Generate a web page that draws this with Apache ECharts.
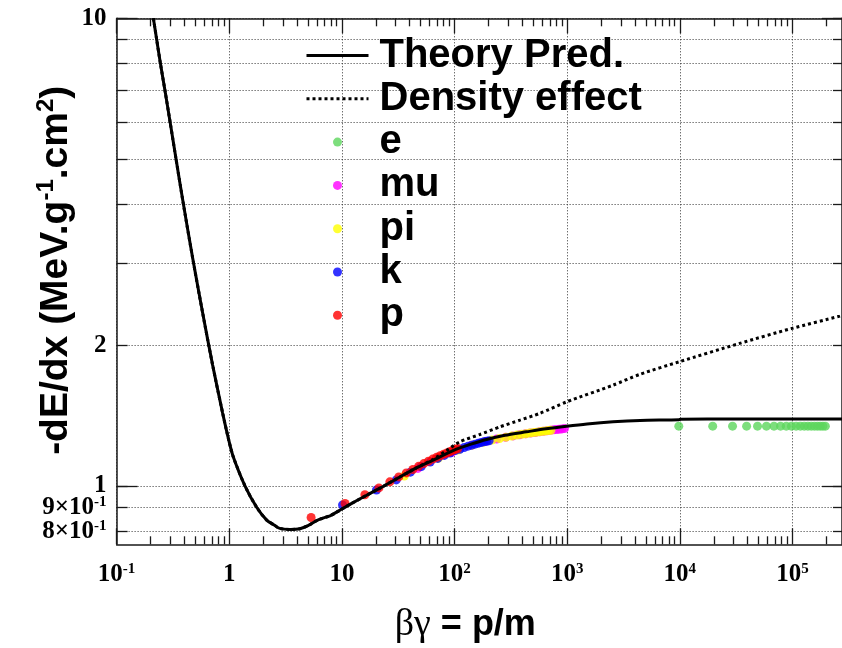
<!DOCTYPE html>
<html><head><meta charset="utf-8">
<script src="https://cdn.jsdelivr.net/npm/echarts@6/dist/echarts.min.js"></script>
<style>html,body{margin:0;padding:0;background:#fff}#c{width:842px;height:648px}</style>
</head><body><div id="c"></div>
<script>
// ---------- data ----------
const theoryBG  = [0.212,0.227,0.245,0.269,0.2985,0.337,0.386,0.4733,0.5808,0.7121,0.8737,0.9938,1.085,1.378,1.75,2.15,2.5,2.81,3.5,4.24,5.0,6.1,8,9.6,12,16.6,22,32.7,45,64.6,97,140,192,280,435,650,986,1500,2550,4440,9800,10200,30000,100000,275000];
const theoryVal = [10,9,8,7,6,5,4.09,3.07,2.342,1.8125,1.431,1.248,1.154,1.0,0.9,0.845,0.825,0.811,0.807,0.81,0.822,0.845,0.865,0.887,0.915,0.955,0.99,1.045,1.09,1.135,1.19,1.228,1.257,1.283,1.305,1.325,1.342,1.357,1.371,1.38,1.385,1.389,1.39,1.39,1.39];

const densityBG  = [0.212,0.227,0.245,0.269,0.2985,0.337,0.386,0.4733,0.5808,0.7121,0.8737,0.9938,1.085,1.378,1.75,2.15,2.5,2.81,3.5,4.24,5.0,6.1,8,9.6,12,16.6,22,32.7,45,64.6,85,111,168,252,380,571,986,2550,4440,9840,33900,99000,263000,275000];
const densityVal = [10,9,8,7,6,5,4.09,3.07,2.342,1.8125,1.431,1.248,1.154,1.0,0.9,0.845,0.825,0.811,0.807,0.81,0.822,0.845,0.865,0.887,0.915,0.955,0.99,1.045,1.09,1.14,1.19,1.242,1.288,1.337,1.382,1.429,1.512,1.642,1.733,1.842,2.017,2.172,2.307,2.315];

const eBG  = [9785,19570,29354,39139,48924,58708,68493,78278,88062,97847,107632,117417,127201,136986,146771,156555,166340,176125,185909,195694];
const eVal = [1.342,1.342,1.342,1.342,1.342,1.342,1.342,1.342,1.342,1.342,1.342,1.342,1.342,1.342,1.342,1.342,1.342,1.342,1.342,1.342];

const muBG  = [47.3,94.6,141.9,189.2,236.5,283.8,331.1,378.4,425.7,473,520.3,567.6,614.9,662.2,709.5,756.8,804.1,851.4,898.7,946];
const muVal = [1.09,1.18,1.222,1.245,1.26,1.27,1.279,1.286,1.292,1.297,1.301,1.305,1.309,1.312,1.315,1.318,1.32,1.322,1.324,1.326];

const piBG  = [35.82,71.64,107.5,143.3,179.1,214.9,250.7,286.6,322.4,358.2,394,429.8,465.7,501.5,537.3,573.1,609,644.8,680.6,716.4];
const piVal = [1.05,1.145,1.193,1.222,1.24,1.253,1.263,1.271,1.278,1.284,1.289,1.293,1.297,1.3,1.303,1.306,1.309,1.311,1.313,1.315];

const kBG  = [10.13,20.26,30.39,40.52,50.65,60.78,70.91,81.04,91.17,101.3,111.4,121.6,131.7,141.8,151.9,162.1,172.2,182.3,192.4,202.6];
const kVal = [0.91,0.98,1.03,1.07,1.1,1.125,1.145,1.162,1.176,1.19,1.198,1.208,1.216,1.222,1.228,1.233,1.238,1.242,1.246,1.249];

const pBG  = [5.33,10.66,15.99,21.32,26.65,31.98,37.31,42.64,47.97,53.3,58.63,63.96,69.29,74.62,79.95,85.28,90.61,95.94,101.27,106.6];
const pVal = [0.856,0.917,0.957,0.99,1.02,1.045,1.066,1.084,1.101,1.116,1.129,1.141,1.151,1.16,1.168,1.176,1.183,1.19,1.196,1.202];

// ---------- axes / ticks ----------
const X_MIN = 0.1, X_MAX = 275000;
const Y_MIN = 0.75, Y_MAX = 10;
const xMajorTicks = [0.1,1,10,100,1000,10000,100000];
const xTickLabels = ['{b|10}{s|-1}','{b|1}','{b|10}','{b|10}{s|2}','{b|10}{s|3}','{b|10}{s|4}','{b|10}{s|5}'];
const yMajorTicks = [1,10];
const yMinorTicks = [0.8,0.9,1,2,3,4,5,6,7,8,9,10];
const yLabelValues = [0.8,1,2,10];
const yTickLabels = ['{b|8×10}{s|-1}','{b|1}','{b|2}','{b|10}'];
const yLabelValues2 = [0.9];
const yTickLabels2 = ['{b|9×10}{s|-1}'];
const xMinorTicks = [];
xMajorTicks.forEach(d => { for (let k = 2; k <= 9; k++) { if (d*k <= X_MAX) xMinorTicks.push(d*k); } });

function pairs(a, b) { return a.map((v, i) => [v, b[i]]); }
function lookup(vals, labels) {
  return function (v) {
    for (let i = 0; i < vals.length; i++) {
      if (Math.abs(Math.log10(v) - Math.log10(vals[i])) < 1e-4) return labels[i];
    }
    return '';
  };
}

const frame = {color:'#1a1a1a', width:1.5};
const grid = {show:true, lineStyle:{color:'#333', width:1, type:[1,2]}};
const tickRich = {
  b:{fontFamily:'Liberation Serif', fontWeight:'bold', fontSize:25, color:'#000', lineHeight:26},
  s:{fontFamily:'Liberation Serif', fontWeight:'bold', fontSize:15, color:'#000', lineHeight:14, verticalAlign:'top'}
};

function xAx(pos, major, opts) {
  return Object.assign({
    type:'log', logBase:10, min:X_MIN, max:X_MAX, position:pos, gridIndex:0,
    axisLine:{show:major, onZero:false, lineStyle:frame},
    axisTick:{show:true, inside:true, length: major ? 16 : 8, customValues: major ? xMajorTicks : xMinorTicks, lineStyle:{color:'#1a1a1a', width:1.3}},
    axisLabel:{show:false},
    splitLine:{show:false}
  }, opts || {});
}
function yAx(pos, major, opts) {
  return Object.assign({
    type:'log', logBase:10, min:Y_MIN, max:Y_MAX, position:pos, gridIndex:0,
    axisLine:{show:major, onZero:false, lineStyle:frame},
    axisTick:{show:true, inside:true, length: major ? 21 : 11, customValues: major ? yMajorTicks : yMinorTicks, lineStyle:{color:'#1a1a1a', width:1.3}},
    axisLabel:{show:false},
    splitLine:{show:false}
  }, opts || {});
}

const chart = echarts.init(document.getElementById('c'), null, {renderer:'canvas'});
chart.setOption({
  animation:false,
  backgroundColor:'#fff',
  grid:{left:116.6, right:0, top:18.3, bottom:103.7, containLabel:false, outerBoundsMode:'none'},
  legend:{
    orient:'vertical', left:305, top:35.5, padding:0, itemWidth:62, itemHeight:9, itemGap:3.3,
    selectedMode:false,
    textStyle:{fontFamily:'Liberation Sans', fontWeight:'bold', fontSize:40, color:'#000', padding:[0,0,0,6]},
    data:[
      {name:'Theory Pred.', itemStyle:{opacity:0}, lineStyle:{width:3, color:'#000', type:'solid'}},
      {name:'Density effect', itemStyle:{opacity:0}, lineStyle:{width:3, color:'#000', type:[3,3]}},
      {name:'e',icon:'circle'},{name:'mu',icon:'circle'},{name:'pi',icon:'circle'},{name:'k',icon:'circle'},{name:'p',icon:'circle'}
    ]
  },
  xAxis:[
    xAx('bottom', true, {
      axisLabel:{show:true, hideOverlap:false, showMinLabel:true, showMaxLabel:true, customValues:xMajorTicks, formatter:lookup(xMajorTicks, xTickLabels), margin:17, rich:tickRich},
      splitLine:grid,
      name:'{g|βγ}{t| = p/m}', nameLocation:'middle', nameGap:62, nameMoveOverlap:false,
      nameTextStyle:{padding:[0,28,0,0], rich:{
        g:{fontFamily:'Liberation Serif', fontSize:38, color:'#000'},
        t:{fontFamily:'Liberation Sans', fontWeight:'bold', fontSize:36, color:'#000'}
      }}
    }),
    xAx('bottom', false),
    xAx('top', true, {axisTick:{show:true, inside:true, length:15, customValues:xMajorTicks, lineStyle:{color:'#1a1a1a', width:1.3}}}),
    xAx('top', false)
  ],
  yAxis:[
    yAx('left', true, {
      axisLabel:{show:true, hideOverlap:false, showMinLabel:true, showMaxLabel:true, customValues:yLabelValues, formatter:lookup(yLabelValues, yTickLabels), margin:10, rich:tickRich},
      name:'{t|-dE/dx (MeV.g}{s|-1}{t|.cm}{s|2}{t|)}', nameLocation:'middle', nameRotate:90, nameGap:38, nameMoveOverlap:false,
      nameTextStyle:{padding:[0,0,0,22], rich:{
        t:{fontFamily:'Liberation Sans', fontWeight:'bold', fontSize:39, color:'#000', lineHeight:44},
        s:{fontFamily:'Liberation Sans', fontWeight:'bold', fontSize:24, color:'#000', lineHeight:26, verticalAlign:'top'}
      }}
    }),
    yAx('left', false, {
      splitLine:grid,
      axisLabel:{show:true, hideOverlap:false, showMinLabel:true, showMaxLabel:true, customValues:yLabelValues2, formatter:lookup(yLabelValues2, yTickLabels2), margin:10, rich:tickRich}
    }),
    yAx('right', true, {axisTick:{show:true, inside:true, length:20, customValues:yMajorTicks, lineStyle:{color:'#1a1a1a', width:1.3}}}),
    yAx('right', false, {axisTick:{show:true, inside:true, length:9, customValues:yMinorTicks, lineStyle:{color:'#1a1a1a', width:1.3}}})
  ],
  series:[
    {name:'e', type:'scatter', data:pairs(eBG,eVal), symbol:'circle', symbolSize:9, itemStyle:{color:'#5cd65c'}, z:2},
    {name:'mu', type:'scatter', data:pairs(muBG,muVal), symbol:'circle', symbolSize:9, itemStyle:{color:'#ff00ff'}, z:2},
    {name:'pi', type:'scatter', data:pairs(piBG,piVal), symbol:'circle', symbolSize:9, itemStyle:{color:'#ffff00'}, z:2},
    {name:'k', type:'scatter', data:pairs(kBG,kVal), symbol:'circle', symbolSize:9, itemStyle:{color:'#0000ff'}, z:2},
    {name:'p', type:'scatter', data:pairs(pBG,pVal), symbol:'circle', symbolSize:9, itemStyle:{color:'#ff0000'}, z:2},
    {name:'Density effect', type:'line', data:pairs(densityBG,densityVal), symbol:'none', showSymbol:false, smooth:0.25,
     lineStyle:{color:'#000', width:3, type:[3,3]}, itemStyle:{color:'#000'}, z:4},
    {name:'Theory Pred.', type:'line', data:pairs(theoryBG,theoryVal), symbol:'none', showSymbol:false, smooth:0.25,
     lineStyle:{color:'#000', width:3}, itemStyle:{color:'#000'}, z:5}
  ]
});
</script>
</body></html>
